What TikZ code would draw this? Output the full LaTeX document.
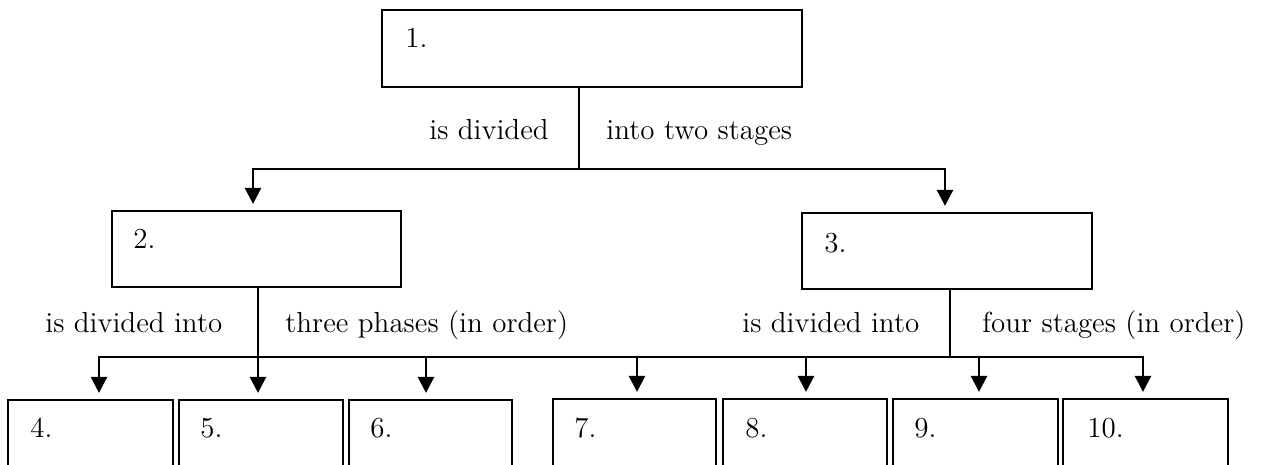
\documentclass[tikz,border=0pt]{standalone}
\usetikzlibrary{arrows.meta,fit}
\begin{document}
\begin{tikzpicture}[x=0.5pt,y=-0.5pt,
  box/.style={draw, line width=1.1pt, inner sep=0pt, fit={#1}},
  txt/.style={anchor=base west, inner sep=0pt, font=\fontsize{14.5}{17}\selectfont},
  link/.style={line width=1.3pt},
  arr/.style={link, -{Triangle[width=8pt,length=8pt]}, shorten >=3pt}]
\clip (0,0) rectangle (1264,465);

% boxes
\node[box={(382,10) (802,87)}] (b1) {};
\node[box={(112,211) (401,287)}] (b2) {};
\node[box={(802,213) (1092,289)}] (b3) {};
\node[box={(8,400) (173,480)}] (b4) {};
\node[box={(179,400) (343,480)}] (b5) {};
\node[box={(349,400) (512,480)}] (b6) {};
\node[box={(553,399) (716,480)}] (b7) {};
\node[box={(723,399) (887,480)}] (b8) {};
\node[box={(893,399) (1058,480)}] (b9) {};
\node[box={(1063,399) (1228,480)}] (b10) {};

% numbers
\node[txt] (n1) at (405,48) {1.};
\node[txt] (n2) at (133,248) {2.};
\node[txt] (n3) at (824,252) {3.};
\node[txt] (n4) at (30,437) {4.};
\node[txt] (n5) at (200,437) {5.};
\node[txt] (n6) at (370,437) {6.};
\node[txt] (n7) at (574,437) {7.};
\node[txt] (n8) at (745,437) {8.};
\node[txt] (n9) at (914,437) {9.};
\node[txt] (n10) at (1087,437) {10.};

% connector labels
\node[txt] (l1) at (429,140) {is divided};
\node[txt] (l2) at (606,140) {into two stages};
\node[txt] (l3) at (45,332) {is divided into};
\node[txt] (l4) at (285,332) {three phases (in order)};
\node[txt] (l5) at (742,332) {is divided into};
\node[txt] (l6) at (982,332) {four stages (in order)};

% junctions and branch points
\coordinate (j1) at (579,169);
\coordinate (c2) at (253,169);
\coordinate (c3) at (945,169);
\coordinate (j2) at (258,357);
\coordinate (j3) at (950,357);
\coordinate (a4) at (99,357);
\coordinate (a6) at (426,357);
\coordinate (a7) at (637,357);
\coordinate (a8) at (806,357);
\coordinate (a9) at (979,357);
\coordinate (a10) at (1143,357);

% first level
\draw[link] (b1.south -| j1) -- (j1);
\draw[arr] (j1) -- (c2) -- (c2 |- b2.north);
\draw[arr] (j1) -- (c3) -- (c3 |- b3.north);

% second level
\draw[arr] (b2.south -| j2) -- (j2 |- b5.north);
\draw[link] (b3.south -| j3) -- (j3);
\draw[link] (j2) -- (j3);
\draw[arr] (j2) -- (a4) -- (a4 |- b4.north);
\draw[arr] (a6) -- (a6 |- b6.north);
\draw[arr] (a7) -- (a7 |- b7.north);
\draw[arr] (a8) -- (a8 |- b8.north);
\draw[arr] (a9) -- (a9 |- b9.north);
\draw[arr] (j3) -- (a10) -- (a10 |- b10.north);
\end{tikzpicture}
\end{document}
